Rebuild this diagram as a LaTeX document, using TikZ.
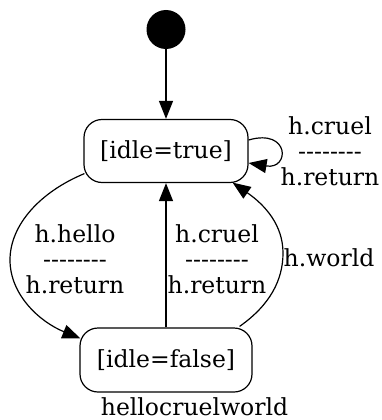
\documentclass[tikz,border=0pt]{standalone}
\usepackage{fontspec}
\setmainfont{DejaVu Serif}
\usetikzlibrary{arrows.meta}
\begin{document}
\begin{tikzpicture}[x=1pt,y=-1pt,
  every node/.style={font=\fontsize{23.5}{25.7}\selectfont},
  state/.style={draw, line width=1.2pt, rounded corners=18pt, inner sep=0pt},
  lbl/.style={align=center, inner sep=0pt},
  arr/.style={line width=1.2pt, -{Triangle[length=18pt,width=14pt]}}]
\useasboundingbox (0,0) rectangle (381,420);
\node[circle, fill=black, minimum size=39pt, inner sep=0pt] (start) at (166,29.5) {};
\node[state, minimum width=164pt, minimum height=63pt] (top) at (166,151) {[idle=true]};
\node[state, minimum width=172pt, minimum height=64pt] (bot) at (166,360) {[idle=false]};
\node[lbl, anchor=base] (name) at (194.5,415) {hellocruelworld};
% edges
\draw[arr] (start) -- (top);
\draw[arr] ([yshift=11pt]top.east) .. controls (290,128) and (290,170) .. ([yshift=-12pt]top.east);
\node[lbl] (l1) at (330,151) {h.cruel\\-{}-{}-{}-{}-{}-{}-{}-\\h.return};
\draw[arr] ([xshift=1pt,yshift=9.5pt]top.south west) .. controls (40,192) and (10,225) .. (10,260)
  .. controls (10,295) and (40,322) .. ([xshift=1pt,yshift=-11pt]bot.north west);
\node[lbl] (l2) at (75,259) {h.hello\\-{}-{}-{}-{}-{}-{}-{}-\\h.return};
\draw[arr] (bot.north) -- (top.south);
\node[lbl] (l3) at (217,259) {h.cruel\\-{}-{}-{}-{}-{}-{}-{}-\\h.return};
\draw[arr] ([xshift=-13pt,yshift=1pt]bot.north east) .. controls (270,305) and (283,280) .. (283,253)
  .. controls (283,225) and (265,205) .. ([xshift=-16pt,yshift=0.5pt]top.south east);
\node[lbl, anchor=west] (l4) at (283.5,258) {h.world};
\end{tikzpicture}
\end{document}
